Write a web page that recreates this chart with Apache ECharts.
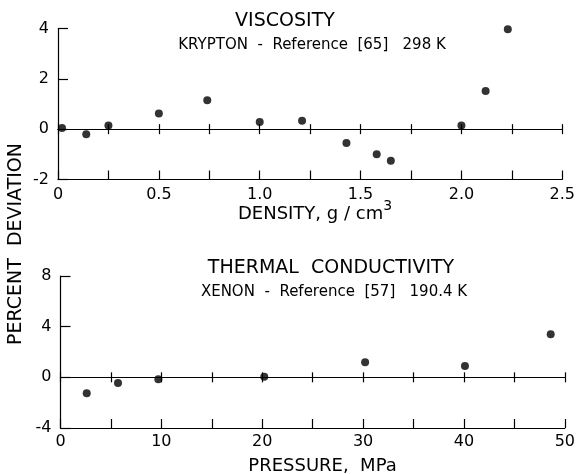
<!DOCTYPE html>
<html>
<head>
<meta charset="utf-8">
<script src="https://cdn.jsdelivr.net/npm/echarts@6/dist/echarts.min.js"></script>
<style>
	html, body { margin: 0; padding: 0; background: #fff; }
	#chart { width: 578px; height: 474px; }
</style>
</head>
<body>
<div id="chart"></div>
<script>
// viscosity, krypton, ref [65], 298 K
const densityX = [0.02, 0.14, 0.25, 0.5, 0.74, 1.0, 1.21, 1.43, 1.58, 1.65, 2.0, 2.12, 2.23];
const viscosityDev = [0.05, -0.2, 0.15, 0.62, 1.15, 0.28, 0.33, -0.55, -1.0, -1.25, 0.15, 1.52, 3.97];

// thermal conductivity, xenon, ref [57], 190.4 K
const pressureX = [2.6, 5.7, 9.7, 20.2, 30.2, 40.1, 48.6];
const conductivityDev = [-1.25, -0.45, -0.15, 0.05, 1.2, 0.9, 3.4];

const densityTicks = ["0", "0.5", "1.0", "1.5", "2.0", "2.5"];
const pressureTicks = ["0", "10", "20", "30", "40", "50"];
const viscosityTicks = ["-2", "0", "2", "4"];
const conductivityTicks = ["-4", "0", "4", "8"];

const ink = "#000";
const font = "DejaVu Sans";

function pick(labels, step, min) {
	return function (v) {
		var i = Math.round((v - min) / step);
		if (Math.abs(v - min - i * step) > 1e-6) return "";
		return labels[i] !== undefined ? labels[i] : "";
	};
}

function bottomAxis(grid, min, max, interval, labels, step, margin) {
	return {
		type: "value",
		gridIndex: grid,
		position: "bottom",
		min: min,
		max: max,
		interval: interval,
		axisLine: { onZero: false, lineStyle: { color: ink, width: 1.2 } },
		axisTick: { inside: true, length: 9, lineStyle: { color: ink, width: 1.2 } },
		axisLabel: {
			margin: margin,
			color: ink,
			fontFamily: font,
			fontSize: 16,
			formatter: pick(labels, step, min),
		},
		splitLine: { show: false },
	};
}

// the zero line: two axes on y = 0, one for ticks going up, one for ticks going down
function zeroAxis(grid, min, max, interval, inside) {
	return {
		type: "value",
		gridIndex: grid,
		position: "bottom",
		min: min,
		max: max,
		interval: interval,
		axisLine: {
			show: true,
			onZero: true,
			onZeroAxisIndex: grid,
			lineStyle: { color: ink, width: 1.2 },
		},
		axisTick: { inside: inside, length: 5, lineStyle: { color: ink, width: 1.2 } },
		axisLabel: { show: false },
		splitLine: { show: false },
	};
}

function leftAxis(grid, min, max, interval, labels) {
	return {
		type: "value",
		gridIndex: grid,
		min: min,
		max: max,
		interval: interval,
		axisLine: { show: true, onZero: false, lineStyle: { color: ink, width: 1.2 } },
		axisTick: { inside: true, length: 10, lineStyle: { color: ink, width: 1.2 } },
		axisLabel: {
			margin: 9,
			color: ink,
			fontFamily: font,
			fontSize: 16,
			formatter: pick(labels, interval, min),
		},
		splitLine: { show: false },
	};
}

function label(x, y, text, size, extra) {
	return Object.assign(
		{
			type: "text",
			x: x,
			y: y,
			style: {
				text: text,
				fill: ink,
				fontFamily: font,
				fontSize: size,
				align: "center",
				verticalAlign: "middle",
			},
		},
		extra || {}
	);
}

var chart = echarts.init(document.getElementById("chart"), null, { renderer: "canvas" });

var option = {
	animation: false,
	backgroundColor: "#fff",
	grid: [
		{ left: 58, right: 13, top: 28.5, height: 151 },
		{ left: 60.5, right: 11.5, top: 276, height: 152 },
	],
	xAxis: [
		bottomAxis(0, 0, 2.5, 0.25, densityTicks, 0.5, 7),
		zeroAxis(0, 0, 2.5, 0.25, true),
		zeroAxis(0, 0, 2.5, 0.25, false),
		bottomAxis(1, 0, 50, 5, pressureTicks, 10, 6),
		zeroAxis(1, 0, 50, 5, true),
		zeroAxis(1, 0, 50, 5, false),
	],
	yAxis: [
		leftAxis(0, -2, 4, 2, viscosityTicks),
		leftAxis(1, -4, 8, 4, conductivityTicks),
	],
	series: [
		{
			type: "scatter",
			xAxisIndex: 0,
			yAxisIndex: 0,
			symbol: "circle",
			symbolSize: 8,
			itemStyle: { color: ink },
			data: densityX.map((x, i) => [x, viscosityDev[i]]),
		},
		{
			type: "scatter",
			xAxisIndex: 3,
			yAxisIndex: 1,
			symbol: "circle",
			symbolSize: 8,
			itemStyle: { color: ink },
			data: pressureX.map((x, i) => [x, conductivityDev[i]]),
		},
	],
	graphic: [
		label(285, 21.5, "VISCOSITY", 19),
		label(312, 45.5, "KRYPTON  -  Reference  [65]   298 K", 15),
		label(331, 268.5, "THERMAL  CONDUCTIVITY", 19),
		label(334, 292, "XENON  -  Reference  [57]   190.4 K", 15),
		{
			type: "text",
			x: 315,
			y: 211,
			style: {
				text: "{b|DENSITY, g / cm}{s|3}",
				fill: ink,
				fontFamily: font,
				fontSize: 18,
				align: "center",
				verticalAlign: "middle",
				rich: {
					b: { fontFamily: font, fontSize: 18, fill: ink, lineHeight: 24, verticalAlign: "bottom" },
					s: { fontFamily: font, fontSize: 14, fill: ink, lineHeight: 14, verticalAlign: "top" },
				},
			},
		},
		label(322.5, 466, "PRESSURE,  MPa", 18),
		label(16, 244, "PERCENT  DEVIATION", 19, { rotation: Math.PI / 2 }),
	],
};

chart.setOption(option);
</script>
</body>
</html>
